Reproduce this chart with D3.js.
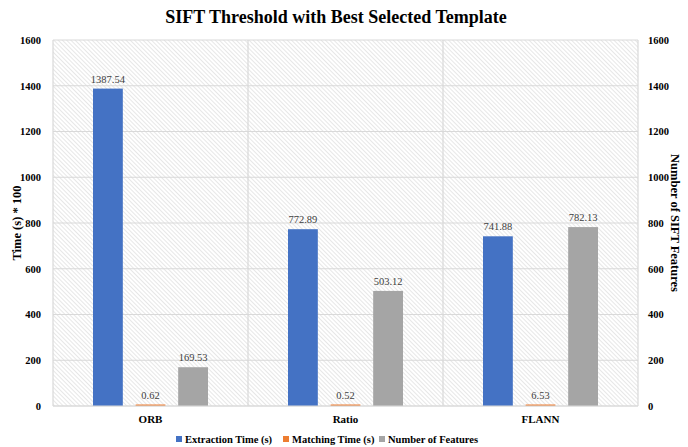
<!DOCTYPE html>
<html>
<head>
<meta charset="utf-8">
<script src="https://cdn.jsdelivr.net/npm/d3@7"></script>
<style>
  body { margin: 0; background: #fff; }
  svg text { font-family: "Liberation Serif", "Times New Roman", serif; }
</style>
</head>
<body>
<div class="chart"></div>
<script>
// chart data
var categories = ["ORB", "Ratio", "FLANN"];
var seriesNames = ["Extraction Time (s)", "Matching Time (s)", "Number of Features"];
var extractionTime = [1387.54, 772.89, 741.88];
var matchingTime = [0.62, 0.52, 6.53];
var numFeatures = [169.53, 503.12, 782.13];
var yTicks = [0, 200, 400, 600, 800, 1000, 1200, 1400, 1600];
var colors = ["#4472C4", "#ED7D31", "#A5A5A5"];

var svgWidth = 688, svgHeight = 447;
var margin = { top: 40, right: 50, bottom: 41, left: 53 };
var width = svgWidth - margin.left - margin.right;
var height = svgHeight - margin.top - margin.bottom;

var svg = d3.select(".chart").append("svg")
  .attr("width", svgWidth)
  .attr("height", svgHeight);

// hatch pattern for the plot background
var defs = svg.append("defs");
var pat = defs.append("pattern")
  .attr("id", "hatch")
  .attr("patternUnits", "userSpaceOnUse")
  .attr("width", 3)
  .attr("height", 3)
  .attr("patternTransform", "rotate(-45)");
pat.append("line")
  .attr("x1", 0).attr("y1", 0)
  .attr("x2", 0).attr("y2", 3)
  .attr("stroke", "#c9c9c9")
  .attr("stroke-width", 0.9);

var chartGroup = svg.append("g")
  .attr("transform", `translate(${margin.left}, ${margin.top})`);

// build rows
var rows = categories.map(function(c, i) {
  return { cat: c, values: [extractionTime[i], matchingTime[i], numFeatures[i]] };
});

var x0 = d3.scaleBand().domain(categories).range([0, width]);
var x1 = d3.scaleBand().domain([0, 1, 2]).range([40, x0.bandwidth() - 40]).paddingInner(0.3);
var yLeft = d3.scaleLinear().domain([0, 1600]).range([height, 0]);
var yRight = d3.scaleLinear().domain([0, 1600]).range([height, 0]);

chartGroup.append("rect")
  .attr("x", 0).attr("y", 0)
  .attr("width", width).attr("height", height)
  .attr("fill", "url(#hatch)");

// horizontal gridlines
chartGroup.append("g")
  .selectAll("line")
  .data(yTicks)
  .enter()
  .append("line")
  .attr("x1", 0).attr("x2", width)
  .attr("y1", d => yLeft(d)).attr("y2", d => yLeft(d))
  .attr("stroke", "#d9d9d9")
  .attr("stroke-width", 1.2);

// vertical category dividers
chartGroup.append("g")
  .selectAll("line")
  .data([0, 1, 2, 3])
  .enter()
  .append("line")
  .attr("x1", d => d * x0.step()).attr("x2", d => d * x0.step())
  .attr("y1", 0).attr("y2", height)
  .attr("stroke", "#d9d9d9")
  .attr("stroke-width", 1.2);

// bars
var groups = chartGroup.selectAll(".grp")
  .data(rows)
  .enter()
  .append("g")
  .attr("transform", d => `translate(${x0(d.cat)}, 0)`);

function barY(d, i) { return i == 2 ? yRight(d) : yLeft(d); }

groups.selectAll("rect")
  .data(d => d.values)
  .enter()
  .append("rect")
  .attr("x", (d, i) => x1(i))
  .attr("width", x1.bandwidth())
  .attr("y", (d, i) => Math.min(barY(d, i), height - 1.5))
  .attr("height", (d, i) => Math.max(height - barY(d, i), 1.5))
  .attr("fill", (d, i) => colors[i]);

groups.selectAll(".lbl")
  .data(d => d.values)
  .enter()
  .append("text")
  .attr("x", (d, i) => x1(i) + x1.bandwidth() / 2)
  .attr("y", (d, i) => Math.min(barY(d, i), height - 1.5) - 6)
  .attr("text-anchor", "middle")
  .attr("font-size", "10.5px")
  .attr("fill", "#404040")
  .text(d => d.toFixed(2));

// axes
var leftAxis = d3.axisLeft(yLeft).tickValues(yTicks).tickFormat(d3.format("d")).tickSize(0).tickPadding(12);
var rightAxis = d3.axisRight(yRight).tickValues(yTicks).tickFormat(d3.format("d")).tickSize(0).tickPadding(10);
var bottomAxis = d3.axisBottom(x0).tickSize(0).tickPadding(9);

var gl = chartGroup.append("g").call(leftAxis);
var gr = chartGroup.append("g").attr("transform", `translate(${width}, 0)`).call(rightAxis);
var gb = chartGroup.append("g").attr("transform", `translate(0, ${height})`).call(bottomAxis);

[gl, gr, gb].forEach(function(g) {
  g.select(".domain").remove();
  g.selectAll("text")
    .attr("font-weight", "bold")
    .attr("font-size", "10.5px")
    .attr("fill", "#000");
});
gb.selectAll("text").attr("font-size", "11px");
chartGroup.append("line")
  .attr("x1", 0).attr("x2", width)
  .attr("y1", height).attr("y2", height)
  .attr("stroke", "#d9d9d9")
  .attr("stroke-width", 1.2);

// title
svg.append("text")
  .attr("x", 336)
  .attr("y", 23)
  .attr("text-anchor", "middle")
  .attr("font-size", "18px")
  .attr("font-weight", "bold")
  .text("SIFT Threshold with Best Selected Template");

// axis titles
svg.append("text")
  .attr("transform", `translate(21, ${margin.top + height / 2}) rotate(-90)`)
  .attr("text-anchor", "middle")
  .attr("font-size", "12.5px")
  .attr("font-weight", "bold")
  .text("Time (s) * 100");

svg.append("text")
  .attr("transform", `translate(671, ${margin.top + height / 2}) rotate(90)`)
  .attr("text-anchor", "middle")
  .attr("font-size", "12.5px")
  .attr("font-weight", "bold")
  .text("Number of SIFT Features");

// legend
var legendX = [176, 283, 379];
var legend = svg.append("g");
seriesNames.forEach(function(name, i) {
  legend.append("rect")
    .attr("x", legendX[i]).attr("y", 436)
    .attr("width", 6).attr("height", 6)
    .attr("fill", colors[i]);
  legend.append("text")
    .attr("x", legendX[i] + 9).attr("y", 443)
    .attr("font-size", "10.5px")
    .attr("font-weight", "bold")
    .text(name);
});
</script>
</body>
</html>
